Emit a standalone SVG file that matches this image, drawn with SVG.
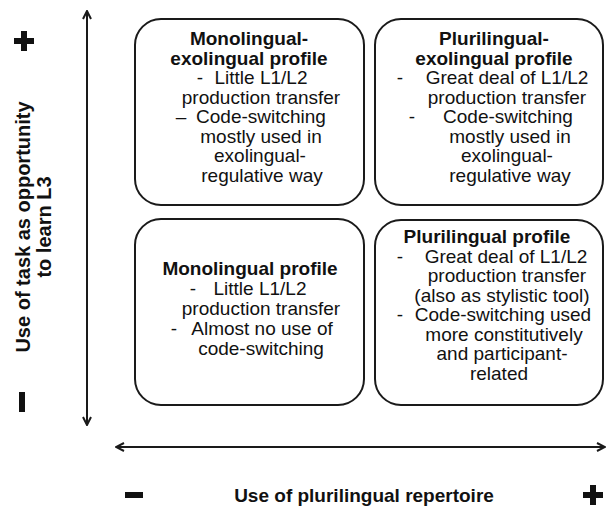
<svg xmlns="http://www.w3.org/2000/svg" width="606" height="508" viewBox="0 0 606 508">
<style>
text{font-family:"Liberation Sans",Arial,sans-serif;fill:#111;}
.t{font-size:19px;text-anchor:middle;}
.b{font-weight:bold;}
.v{font-size:20px;}
.box{fill:#fff;stroke:#1a1a1a;stroke-width:2;}
.ax{stroke:#1a1a1a;stroke-width:2;fill:none;}
.sym{fill:#111;}
</style>
<defs>
<marker id="ah" viewBox="0 0 10 10" refX="9" refY="5" markerWidth="10" markerHeight="10" markerUnits="userSpaceOnUse" orient="auto-start-reverse">
<path d="M1,1 L9,5 L1,9" fill="none" stroke="#1a1a1a" stroke-width="2"/>
</marker>
</defs>
<rect width="606" height="508" fill="#fff"/>
<g id="connectors">
<line class="ax" x1="87" y1="11" x2="87" y2="425" marker-start="url(#ah)" marker-end="url(#ah)"/>
<line class="ax" x1="116" y1="447" x2="605" y2="447" marker-start="url(#ah)" marker-end="url(#ah)"/>
</g>
<g id="y-axis-label">
<path class="sym" d="M21,31h6v7h7v6h-7v7h-6v-7h-7v-6h7z"/>
<rect class="sym" x="19" y="392" width="6" height="20"/>
<text class="t b v" transform="translate(30,227) rotate(-90)">Use of task as opportunity</text>
<text class="t b v" transform="translate(51,227) rotate(-90)">to learn L3</text>
</g>
<g id="x-axis-label">
<rect class="sym" x="125" y="492" width="18" height="6"/>
<path class="sym" d="M590,485h6v7h7v6h-7v7h-6v-7h-7v-6h7z"/>
<text class="t b" x="364" y="502">Use of plurilingual repertoire</text>
</g>
<g id="monolingual-exolingual">
<rect class="box" x="135" y="19" width="229" height="186" rx="26"/>
<text class="t b" x="249" y="45">Monolingual-</text>
<text class="t b" x="249" y="64.5">exolingual profile</text>
<text class="t" x="200" y="84">-</text>
<text class="t" x="261" y="84">Little L1/L2</text>
<text class="t" x="261" y="103.5">production transfer</text>
<text class="t" x="181" y="123">–</text>
<text class="t" x="261" y="123">Code-switching</text>
<text class="t" x="261" y="142.5">mostly used in</text>
<text class="t" x="260" y="162">exolingual-</text>
<text class="t" x="262" y="181.5">regulative way</text>
</g>
<g id="plurilingual-exolingual">
<rect class="box" x="375" y="19" width="228" height="186" rx="26"/>
<text class="t b" x="494" y="45">Plurilingual-</text>
<text class="t b" x="494" y="64.5">exolingual profile</text>
<text class="t" x="400" y="84">-</text>
<text class="t" x="507" y="84">Great deal of L1/L2</text>
<text class="t" x="507" y="103.5">production transfer</text>
<text class="t" x="412" y="123">-</text>
<text class="t" x="508" y="123">Code-switching</text>
<text class="t" x="510" y="142.5">mostly used in</text>
<text class="t" x="507" y="162">exolingual-</text>
<text class="t" x="510" y="181.5">regulative way</text>
</g>
<g id="monolingual">
<rect class="box" x="135" y="219" width="229" height="186" rx="26"/>
<text class="t b" x="250" y="275">Monolingual profile</text>
<text class="t" x="193" y="295">-</text>
<text class="t" x="260" y="295">Little L1/L2</text>
<text class="t" x="261" y="315">production transfer</text>
<text class="t" x="174" y="335">-</text>
<text class="t" x="262" y="335">Almost no use of</text>
<text class="t" x="261" y="355">code-switching</text>
</g>
<g id="plurilingual">
<rect class="box" x="375" y="220" width="228" height="185" rx="26"/>
<text class="t b" x="487" y="243">Plurilingual profile</text>
<text class="t" x="400" y="262.5">-</text>
<text class="t" x="506" y="262.5">Great deal of L1/L2</text>
<text class="t" x="507" y="282">production transfer</text>
<text class="t" x="502" y="301.5">(also as stylistic tool)</text>
<text class="t" x="400" y="321">-</text>
<text class="t" x="503" y="321">Code-switching used</text>
<text class="t" x="504" y="340.5">more constitutively</text>
<text class="t" x="502" y="360">and participant-</text>
<text class="t" x="499" y="379.5">related</text>
</g>
</svg>
